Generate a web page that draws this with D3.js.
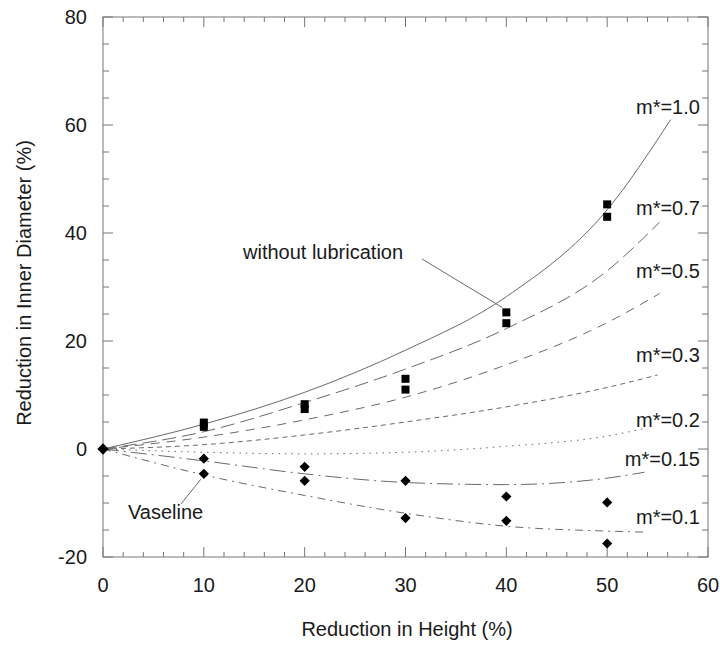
<!DOCTYPE html>
<html>
<head>
<meta charset="utf-8">
<script src="https://cdn.jsdelivr.net/npm/d3@7"></script>
<style>
  body { margin: 0; background: #fff; }
  svg text { font-family: "Liberation Sans", Arial, sans-serif; fill: #1a1a1a; }
</style>
</head>
<body>
<svg id="chart" width="720" height="650"></svg>
<script>
// *******************
// data
// *******************

// measured points (without lubrication = squares, Vaseline = diamonds)
const dryX = [0, 10, 10, 20, 20, 30, 30, 40, 40, 50, 50];
const dryY = [0, 4.1, 4.9, 7.4, 8.3, 11.0, 13.0, 23.3, 25.3, 43.0, 45.3];
const vasX = [0, 10, 10, 20, 20, 30, 30, 40, 40, 50, 50];
const vasY = [0, -1.8, -4.6, -3.3, -5.9, -5.9, -12.8, -8.8, -13.3, -9.9, -17.5];

// predicted curves for each friction factor
const curve10 = [[0, 0], [10, 4.6], [20, 10.5], [30, 18.3], [40, 28.2], [50, 44.3], [56.3, 61]];
const curve07 = [[0, 0], [10, 3.2], [20, 8.6], [30, 14.8], [40, 22.3], [50, 33.0], [55.2, 42]];
const curve05 = [[0, 0], [10, 2.2], [20, 5.4], [30, 9.6], [40, 15.6], [50, 23.4], [55.2, 28.8]];
const curve03 = [[0, 0], [10, 0.8], [20, 2.6], [30, 5.0], [40, 7.8], [50, 11.4], [55, 13.7]];
const curve02 = [[0, 0], [10, -0.6], [20, -0.9], [30, -0.6], [40, 0.5], [50, 2.4], [53.5, 3.7]];
const curve015 = [[0, 0], [10, -2.2], [20, -4.6], [30, -6.2], [40, -6.6], [50, -5.4], [53.7, -4.3]];
const curve01 = [[0, 0], [10, -4.8], [20, -8.6], [30, -11.9], [40, -14.3], [50, -15.2], [54, -15.4]];

const curveNames = ["m*=1.0", "m*=0.7", "m*=0.5", "m*=0.3", "m*=0.2", "m*=0.15", "m*=0.1"];
const curveDash = ["none", "14,6", "9,7", "5,4", "1.5,5", "16,5,2,5", "8,5,2,5"];
// where each label sits, in data units (right edge, centre)
const labelY = [63.3, 44.6, 33.0, 17.4, 5.4, -1.9, -12.5];

const xTicks = [0, 10, 20, 30, 40, 50, 60];
const yTicks = [-20, 0, 20, 40, 60, 80];

// *******************
// set up
// *******************

const svg = d3.select("#chart");
const MARGIN = { LEFT: 103, RIGHT: 12, TOP: 17, BOTTOM: 93 };
const W = 720, H = 650;

const x = d3.scaleLinear().domain([0, 60]).range([MARGIN.LEFT, W - MARGIN.RIGHT]);
const y = d3.scaleLinear().domain([-20, 80]).range([H - MARGIN.BOTTOM, MARGIN.TOP]);

const FRAME = "#777";
const LINE = "#6a6a6a";

// frame
svg.append("rect")
  .attr("x", x(0))
  .attr("y", y(80))
  .attr("width", x(60) - x(0))
  .attr("height", y(-20) - y(80))
  .attr("fill", "none")
  .attr("stroke", FRAME)
  .attr("stroke-width", 1);

// ticks on all four sides, pointing inwards
const minorX = d3.range(0, 61, 2);
const minorY = d3.range(-20, 81, 5);
const tickG = svg.append("g").attr("stroke", FRAME).attr("stroke-width", 1);

minorX.forEach((v) => {
  const len = v % 10 === 0 ? 10 : 5;
  tickG.append("line")
    .attr("x1", x(v)).attr("x2", x(v))
    .attr("y1", y(-20)).attr("y2", y(-20) - len);
  tickG.append("line")
    .attr("x1", x(v)).attr("x2", x(v))
    .attr("y1", y(80)).attr("y2", y(80) + len);
});
minorY.forEach((v) => {
  const len = v % 20 === 0 ? 10 : 6;
  tickG.append("line")
    .attr("x1", x(0)).attr("x2", x(0) + len)
    .attr("y1", y(v)).attr("y2", y(v));
  tickG.append("line")
    .attr("x1", x(60)).attr("x2", x(60) - len)
    .attr("y1", y(v)).attr("y2", y(v));
});

// tick labels
svg.append("g")
  .selectAll("text")
  .data(xTicks)
  .join("text")
  .attr("x", (d) => x(d))
  .attr("y", y(-20) + 35)
  .attr("text-anchor", "middle")
  .attr("font-size", 20)
  .text((d) => d);

svg.append("g")
  .selectAll("text")
  .data(yTicks)
  .join("text")
  .attr("x", x(0) - 16)
  .attr("y", (d) => y(d))
  .attr("dy", "0.35em")
  .attr("text-anchor", "end")
  .attr("font-size", 20)
  .text((d) => d);

// axis titles
svg.append("text")
  .attr("x", 407)
  .attr("y", 636)
  .attr("text-anchor", "middle")
  .attr("font-size", 20)
  .text("Reduction in Height (%)");

svg.append("text")
  .attr("transform", "translate(31,283) rotate(-90)")
  .attr("text-anchor", "middle")
  .attr("font-size", 20)
  .text("Reduction in Inner Diameter (%)");

// *******************
// curves
// *******************

const line = d3.line()
  .x((d) => x(d[0]))
  .y((d) => y(d[1]))
  .curve(d3.curveMonotoneX);

const curves = [curve10, curve07, curve05, curve03, curve02, curve015, curve01];

svg.append("g")
  .selectAll("path")
  .data(curves)
  .join("path")
  .attr("d", line)
  .attr("fill", "none")
  .attr("stroke", LINE)
  .attr("stroke-width", 1)
  .attr("stroke-dasharray", (d, i) => curveDash[i]);

svg.append("g")
  .selectAll("text")
  .data(curveNames)
  .join("text")
  .attr("x", x(59.2))
  .attr("y", (d, i) => y(labelY[i]))
  .attr("dy", "0.35em")
  .attr("text-anchor", "end")
  .attr("font-size", 20)
  .text((d) => d);

// *******************
// measured points
// *******************

const squareSize = 8;
svg.append("g")
  .selectAll("rect")
  .data(dryX.map((v, i) => [v, dryY[i]]).filter((d) => d[0] > 0))
  .join("rect")
  .attr("x", (d) => x(d[0]) - squareSize / 2)
  .attr("y", (d) => y(d[1]) - squareSize / 2)
  .attr("width", squareSize)
  .attr("height", squareSize)
  .attr("fill", "#000");

svg.append("g")
  .selectAll("path")
  .data(vasX.map((v, i) => [v, vasY[i]]))
  .join("path")
  .attr("transform", (d) => `translate(${x(d[0])},${y(d[1])}) rotate(45)`)
  .attr("d", (d) => d3.symbol().type(d3.symbolSquare).size(d[0] === 0 ? 64 : 52)())
  .attr("fill", "#000");

// *******************
// annotations
// *******************

svg.append("text")
  .attr("x", 243)
  .attr("y", 252)
  .attr("dy", "0.35em")
  .attr("font-size", 20)
  .text("without lubrication");

svg.append("line")
  .attr("x1", 422).attr("y1", 259)
  .attr("x2", x(39.6)).attr("y2", y(26.2))
  .attr("stroke", LINE)
  .attr("stroke-width", 1);

svg.append("text")
  .attr("x", 128)
  .attr("y", 512)
  .attr("dy", "0.35em")
  .attr("font-size", 20)
  .text("Vaseline");

svg.append("line")
  .attr("x1", 181).attr("y1", 504)
  .attr("x2", x(9.7)).attr("y2", y(-5.6))
  .attr("stroke", LINE)
  .attr("stroke-width", 1);
</script>
</body>
</html>
